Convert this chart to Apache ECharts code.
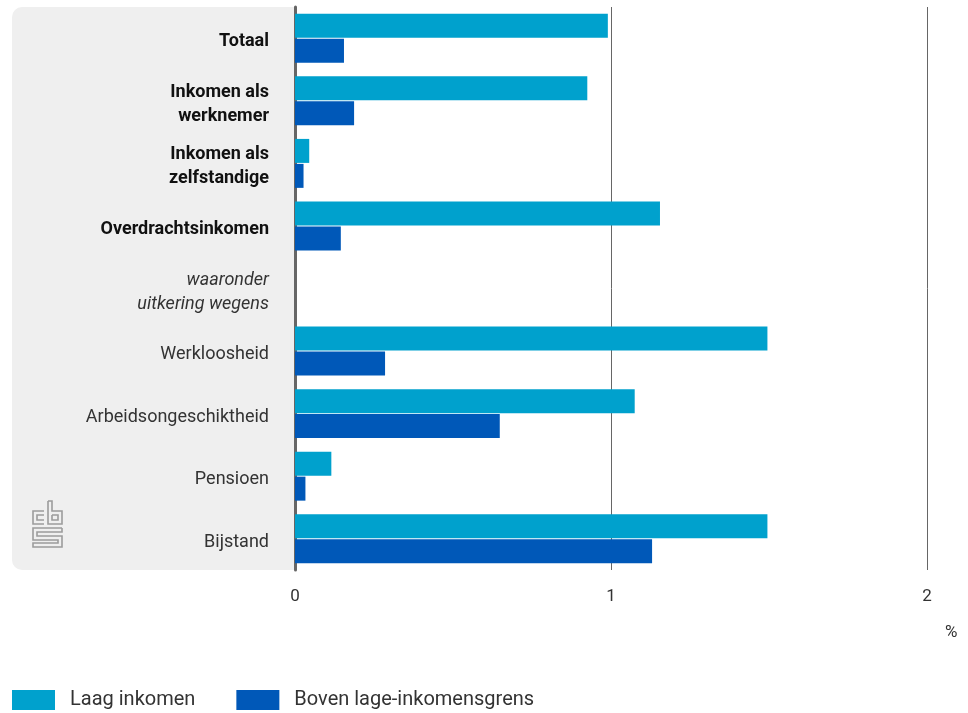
<!DOCTYPE html>
<html lang="nl">
<head>
    <meta charset="UTF-8">
    <script src="https://cdn.jsdelivr.net/npm/echarts@6/dist/echarts.min.js"></script>
    <title>Inkomen</title>
    <style>
        html, body { margin: 0; padding: 0; background: #fff; }
        #chart { width: 968px; height: 713px; }
    </style>
</head>
<body>
<div id="chart"></div>
<script type="text/javascript">
    // categorieen (van boven naar beneden)
    var categories = ['Totaal', 'Inkomen als\nwerknemer', 'Inkomen als\nzelfstandige', 'Overdrachtsinkomen',
        'waaronder\nuitkering wegens', 'Werkloosheid', 'Arbeidsongeschiktheid', 'Pensioen', 'Bijstand'];
    var laagInkomen = [0.99, 0.925, 0.045, 1.155, null, 1.495, 1.075, 0.115, 1.495];
    var bovenGrens = [0.155, 0.187, 0.027, 0.145, null, 0.285, 0.648, 0.033, 1.13];
    var xTicks = [0, 1, 2];

    var lightBlue = '#00a1cd';
    var darkBlue = '#0058b8';

    var myChart = echarts.init(document.getElementById('chart'));

    // cbs logo, ruwe benadering
    var logoColor = '#9c9c9c';
    var logo = [
        [[44, 511], [33, 511], [33, 524], [44, 524]],
        [[44, 515], [37, 515], [37, 520], [44, 520]],
        [[48, 501], [48, 524], [62, 524], [62, 511], [52, 511], [52, 501], [48, 501]],
        [[52, 515], [58, 515], [58, 520], [52, 520], [52, 515]],
        [[62, 528], [33, 528], [33, 540], [58, 540], [58, 543], [33, 543], [33, 547], [62, 547], [62, 536], [37, 536], [37, 532], [62, 532], [62, 528]]
    ];
    var graphics = [{
        type: 'rect',
        z: -1,
        shape: {x: 12, y: 7, width: 283, height: 563, r: [10, 0, 0, 10]},
        style: {fill: '#efefef'}
    }, {
        type: 'text',
        left: 945,
        top: 624,
        style: {text: '%', fontSize: 17, fill: '#333', fontFamily: 'Roboto'}
    }];
    logo.forEach(function (pts) {
        graphics.push({
            type: 'polyline',
            shape: {points: pts},
            style: {stroke: logoColor, lineWidth: 1.6, fill: null}
        });
    });

    var option = {
        animation: false,
        textStyle: {fontFamily: 'Roboto'},
        graphic: graphics,
        grid: {left: 295, right: 41, top: 7, bottom: 143},
        legend: {
            left: 12,
            top: 690,
            padding: 0,
            itemWidth: 43,
            itemHeight: 20,
            itemGap: 41,
            icon: 'rect',
            data: ['Laag inkomen', 'Boven lage-inkomensgrens'],
            textStyle: {fontSize: 20, color: '#333', padding: [2, 0, 0, 10]}
        },
        xAxis: {
            type: 'value',
            min: 0,
            max: 2,
            interval: 1,
            axisLine: {show: false},
            axisTick: {show: false},
            splitLine: {show: true, lineStyle: {color: '#666', width: 1}},
            axisLabel: {
                fontSize: 17,
                color: '#333',
                margin: 18,
                formatter: function (v) {
                    return xTicks.indexOf(v) >= 0 ? String(v) : '';
                }
            }
        },
        yAxis: {
            type: 'category',
            inverse: true,
            data: categories,
            axisTick: {show: false},
            axisLine: {show: true, lineStyle: {color: '#666', width: 3}},
            axisLabel: {
                margin: 26,
                align: 'right',
                padding: [7, 0, 0, 0],
                formatter: function (v, i) {
                    var st = i < 4 ? 'b' : (i === 4 ? 'i' : 'n');
                    return v.split('\n').map(function (s) {
                        return '{' + st + '|' + s + '}';
                    }).join('\n');
                },
                rich: {
                    b: {fontSize: 18, fontWeight: 'bold', color: '#111', lineHeight: 24, fontFamily: 'Roboto'},
                    i: {fontSize: 18, fontStyle: 'italic', color: '#333', lineHeight: 24, fontFamily: 'Roboto'},
                    n: {fontSize: 18, color: '#333', lineHeight: 24, fontFamily: 'Roboto'}
                }
            }
        },
        series: [
            {
                name: 'Laag inkomen',
                type: 'bar',
                data: laagInkomen,
                barWidth: 24,
                barGap: '4%',
                itemStyle: {color: lightBlue}
            },
            {
                name: 'Boven lage-inkomensgrens',
                type: 'bar',
                data: bovenGrens,
                barWidth: 24,
                itemStyle: {color: darkBlue}
            }
        ]
    };
    myChart.setOption(option);
</script>
</body>
</html>
